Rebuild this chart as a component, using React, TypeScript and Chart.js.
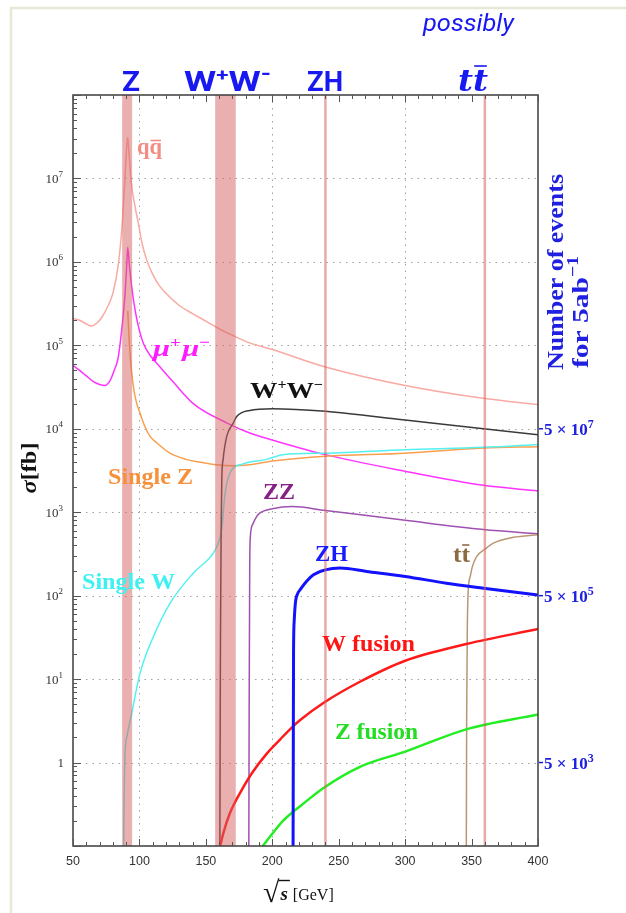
import { useEffect, useRef } from 'react';
import { Chart, registerables } from 'chart.js';
Chart.register(...registerables);

// ---- axes ----
const X_MIN = 50;
const X_MAX = 400;
const Y_MIN = 0.1;
const Y_MAX = 1e8;
const xTickLabels = [50, 100, 150, 200, 250, 300, 350, 400];
const xGridValues = [100, 200, 300];
const yDecadeExps = [0, 1, 2, 3, 4, 5, 6, 7];
const luminosityFb = 5000; // 5 ab^-1
const rightTickExps = [3, 5, 7];

// ---- marked energies (GeV) ----
const zBand = [87, 94.5];
const wwBand = [157, 172.5];
const zhEnergy = 240;
const ttEnergy = 360;

// ---- cross sections (fb) vs sqrt(s) (GeV) ----
const qqX = [50, 55, 60, 64, 68, 72, 76, 80, 84, 87, 89, 90.5, 91.2, 92, 93.7, 96.7, 99.2, 102, 105.5, 110, 115, 120, 130, 140, 150, 160, 170, 183, 200, 240, 300, 360, 400];
const qqY = [2.1e5, 2.0e5, 1.8e5, 1.7e5, 1.85e5, 2.2e5, 2.9e5, 4.2e5, 9e5, 2.8e6, 9.5e6, 2.5e7, 3.1e7, 2.2e7, 9.5e6, 4.6e6, 2.9e6, 1.66e6, 1.05e6, 7.1e5, 5.2e5, 4.2e5, 3.0e5, 2.4e5, 1.95e5, 1.58e5, 1.32e5, 1.07e5, 8.9e4, 5.5e4, 3.3e4, 2.3e4, 1.95e4];

const mmX = [50, 55, 60, 65, 70, 74, 78, 81, 84, 86.6, 89.1, 90.5, 91.2, 92.5, 94.2, 97, 100, 103, 108, 115.5, 125, 140.5, 166, 183, 191, 240, 300, 359, 400];
const mmY = [5.75e4, 5.0e4, 4.3e4, 3.7e4, 3.4e4, 3.3e4, 3.8e4, 5.0e4, 7.1e4, 1.5e5, 4.0e5, 9.5e5, 1.5e6, 8.9e5, 5.0e5, 2.5e5, 1.5e5, 1.05e5, 7.6e4, 5.5e4, 3.7e4, 2.0e4, 1.17e4, 8.9e3, 8.1e3, 4.9e3, 3.1e3, 2.1e3, 1.8e3];

const szX = [91.2, 92.5, 94, 96, 98, 100.4, 104, 108, 113, 123, 135, 145, 158, 170, 183, 200, 240, 300, 359, 400];
const szY = [2.6e5, 1.0e5, 5.0e4, 2.8e4, 2.0e4, 1.55e4, 1.07e4, 8.1e3, 6.8e3, 5.1e3, 4.3e3, 4.0e3, 3.7e3, 3.6e3, 3.7e3, 4.1e3, 4.7e3, 5.1e3, 5.9e3, 6.1e3];

const swX = [87.9, 88.3, 88.8, 89.3, 91, 94.2, 100.4, 110.4, 123, 140.5, 155.6, 159.4, 162, 164.4, 168.2, 178, 195.8, 208, 240, 300, 359, 400];
const swY = [0.02, 0.2, 0.8, 1.4, 2.2, 3.9, 11.7, 32, 81, 186, 324, 427, 630, 1.66e3, 2.95e3, 3.8e3, 4.3e3, 4.9e3, 5.1e3, 5.6e3, 6.0e3, 6.5e3];

const wwX = [160.5, 160.7, 161.0, 161.5, 162, 163, 165.7, 170.6, 173.2, 183, 200, 240, 300, 359, 400];
const wwY = [0.05, 1, 30, 600, 2.5e3, 4.3e3, 8.1e3, 1.17e4, 1.4e4, 1.66e4, 1.74e4, 1.62e4, 1.27e4, 1.0e4, 8.5e3];

const zzX = [182.3, 182.6, 183.0, 183.3, 185, 188.3, 190.7, 200, 215, 240, 300, 359, 400];
const zzY = [0.05, 5, 200, 450, 700, 890, 980, 1.1e3, 1.17e3, 1.05e3, 800, 620, 550];

const zhX = [215.6, 215.8, 216.0, 216.5, 217.5, 219, 221, 226, 231, 240, 251, 271, 300, 331, 359, 400];
const zhY = [0.05, 1, 20, 50, 85, 105, 118, 150, 178, 204, 214, 195, 170, 141, 123, 102];

const ttX = [346.0, 346.3, 346.8, 347.5, 349, 350.5, 353.9, 360, 366.4, 381.4, 400];
const ttY = [0.05, 3, 40, 117, 170, 220, 295, 360, 427, 500, 537];

const wfX = [160.1, 163, 168, 178, 185, 196, 206, 216, 221, 239, 266, 300, 346, 400];
const wfY = [0.09, 0.14, 0.245, 0.5, 0.76, 1.29, 1.9, 2.75, 3.24, 5.25, 9.3, 16.6, 26.3, 39.8];

const zfX = [192.8, 200, 208, 216, 221, 238, 266, 300, 346, 400];
const zfY = [0.1, 0.14, 0.2, 0.26, 0.3, 0.49, 0.89, 1.35, 2.5, 3.76];

const SERIF = '"Liberation Serif", "Times New Roman", serif';
const SANS = '"Liberation Sans", Arial, sans-serif';
const TITLE = 'Roboto, "Open Sans", sans-serif';
const BLUE = '#1818f0';

type Part = { text: string; font: string; dy?: number; bar?: number; gap?: number };

function drawRich(
  ctx: CanvasRenderingContext2D,
  parts: Part[],
  x: number,
  y: number,
  align: 'left' | 'center' | 'right',
  color: string,
  targetWidth?: number
) {
  ctx.save();
  ctx.fillStyle = color;
  ctx.strokeStyle = color;
  ctx.textAlign = 'left';
  ctx.textBaseline = 'alphabetic';
  const widths = parts.map((p) => {
    ctx.font = p.font;
    return ctx.measureText(p.text).width + (p.gap || 0);
  });
  const total = widths.reduce((a, b) => a + b, 0);
  const sx = targetWidth ? targetWidth / total : 1;
  const w = total * sx;
  const left = align === 'center' ? x - w / 2 : align === 'right' ? x - w : x;
  ctx.translate(left, y);
  ctx.scale(sx, 1);
  let cx = 0;
  parts.forEach((p, i) => {
    ctx.font = p.font;
    ctx.fillText(p.text, cx, p.dy || 0);
    if (p.bar !== undefined) {
      const tw = ctx.measureText(p.text).width;
      ctx.lineWidth = 1.6;
      ctx.beginPath();
      ctx.moveTo(cx + tw * 0.08, (p.dy || 0) - p.bar);
      ctx.lineTo(cx + tw * 0.92, (p.dy || 0) - p.bar);
      ctx.stroke();
    }
    cx += widths[i];
  });
  ctx.restore();
}

const overlay = {
  id: 'overlay',
  beforeDraw(chart: any) {
    const ctx: CanvasRenderingContext2D = chart.ctx;
    ctx.save();
    ctx.fillStyle = '#ffffff';
    ctx.fillRect(0, 0, chart.width, chart.height);
    ctx.strokeStyle = '#e8e8d6';
    ctx.lineWidth = 2.5;
    ctx.beginPath();
    ctx.moveTo(11, chart.height);
    ctx.lineTo(11, 8);
    ctx.lineTo(chart.width, 8);
    ctx.stroke();
    ctx.restore();
  },
  beforeDatasetsDraw(chart: any) {
    const ctx: CanvasRenderingContext2D = chart.ctx;
    const { left, right, top, bottom } = chart.chartArea;
    const xs = chart.scales.x;
    const ys = chart.scales.y;
    ctx.save();
    ctx.strokeStyle = '#a0a0a0';
    ctx.lineWidth = 1;
    ctx.setLineDash([1.5, 5]);
    yDecadeExps.forEach((e) => {
      const py = Math.round(ys.getPixelForValue(Math.pow(10, e))) + 0.5;
      ctx.beginPath();
      ctx.moveTo(left, py);
      ctx.lineTo(right, py);
      ctx.stroke();
    });
    xGridValues.forEach((v) => {
      const px = Math.round(xs.getPixelForValue(v)) + 0.5;
      ctx.beginPath();
      ctx.moveTo(px, top);
      ctx.lineTo(px, bottom);
      ctx.stroke();
    });
    ctx.restore();
  },
  afterDatasetsDraw(chart: any) {
    const ctx: CanvasRenderingContext2D = chart.ctx;
    const { left, right, top, bottom } = chart.chartArea;
    const xs = chart.scales.x;
    const ys = chart.scales.y;
    ctx.save();
    // bands
    ctx.fillStyle = 'rgba(214, 98, 98, 0.5)';
    [zBand, wwBand].forEach(([a, b]) => {
      const pa = xs.getPixelForValue(a);
      const pb = xs.getPixelForValue(b);
      ctx.fillRect(pa, top, pb - pa, bottom - top);
    });
    ctx.strokeStyle = 'rgba(214, 98, 98, 0.55)';
    ctx.lineWidth = 2.5;
    [zhEnergy, ttEnergy].forEach((v) => {
      const px = xs.getPixelForValue(v);
      ctx.beginPath();
      ctx.moveTo(px, top);
      ctx.lineTo(px, bottom);
      ctx.stroke();
    });
    // frame
    ctx.strokeStyle = '#3c3c3c';
    ctx.lineWidth = 1.5;
    ctx.strokeRect(left, top, right - left, bottom - top);
    // x ticks
    ctx.strokeStyle = '#555';
    ctx.lineWidth = 1;
    for (let v = X_MIN; v <= X_MAX; v += 10) {
      const px = Math.round(xs.getPixelForValue(v)) + 0.5;
      const len = v % 50 === 0 ? 7 : 4;
      ctx.beginPath();
      ctx.moveTo(px, bottom);
      ctx.lineTo(px, bottom - len);
      ctx.moveTo(px, top);
      ctx.lineTo(px, top + len);
      ctx.stroke();
    }
    // y ticks
    for (let e = -1; e <= 8; e++) {
      for (let m = 1; m <= 9; m++) {
        const v = m * Math.pow(10, e);
        if (v < Y_MIN || v > Y_MAX) continue;
        const py = Math.round(ys.getPixelForValue(v)) + 0.5;
        const len = m === 1 ? 8 : 4;
        ctx.beginPath();
        ctx.moveTo(left, py);
        ctx.lineTo(left + len, py);
        ctx.stroke();
      }
    }
    // x tick labels
    xTickLabels.forEach((v) => {
      drawRich(ctx, [{ text: String(v), font: `12.5px ${SANS}` }], xs.getPixelForValue(v), 865, 'center', '#333');
    });
    // y tick labels
    yDecadeExps.forEach((e) => {
      const py = ys.getPixelForValue(Math.pow(10, e));
      if (e === 0) {
        drawRich(ctx, [{ text: '1', font: `13px ${SERIF}` }], 64, py + 4.5, 'right', '#333');
      } else {
        drawRich(
          ctx,
          [
            { text: '10', font: `13px ${SERIF}` },
            { text: String(e), font: `9px ${SERIF}`, dy: -6 },
          ],
          63,
          py + 4.5,
          'right',
          '#333'
        );
      }
    });
    // right axis: number of events (5 x 10^n events)
    rightTickExps.forEach((n) => {
      const py = ys.getPixelForValue((5 * Math.pow(10, n)) / luminosityFb);
      ctx.strokeStyle = BLUE;
      ctx.lineWidth = 1.5;
      ctx.beginPath();
      ctx.moveTo(right + 1, py);
      ctx.lineTo(right + 5, py);
      ctx.stroke();
      drawRich(
        ctx,
        [
          { text: '5 × 10', font: `bold 17px ${SERIF}` },
          { text: String(n), font: `bold 12px ${SERIF}`, dy: -7 },
        ],
        544,
        py + 6,
        'left',
        '#2020e0'
      );
    });
    // axis titles
    ctx.save();
    ctx.translate(36, 468);
    ctx.rotate(-Math.PI / 2);
    drawRich(
      ctx,
      [
        { text: 'σ', font: `bold italic 22px ${SERIF}` },
        { text: '[fb]', font: `bold 22px ${SERIF}` },
      ],
      0,
      0,
      'center',
      '#111',
      51
    );
    ctx.restore();

    ctx.save();
    ctx.translate(563, 370);
    ctx.rotate(-Math.PI / 2);
    drawRich(ctx, [{ text: 'Number of events', font: `bold 24px ${SERIF}` }], 0, 0, 'left', '#2020e0', 196);
    ctx.restore();
    ctx.save();
    ctx.translate(588, 368);
    ctx.rotate(-Math.PI / 2);
    drawRich(
      ctx,
      [
        { text: 'for 5ab', font: `bold 24px ${SERIF}` },
        { text: '−1', font: `bold 16px ${SERIF}`, dy: -10 },
      ],
      0,
      0,
      'left',
      '#2020e0',
      112
    );
    ctx.restore();

    // sqrt(s) [GeV]
    ctx.save();
    ctx.fillStyle = '#111';
    ctx.strokeStyle = '#111';
    ctx.textBaseline = 'alphabetic';
    ctx.textAlign = 'left';
    ctx.font = `30px ${SERIF}`;
    const rw = ctx.measureText('√').width;
    const x0 = 263;
    ctx.fillText('√', x0, 902);
    ctx.font = `bold italic 19px ${SERIF}`;
    const sw = ctx.measureText('s').width;
    ctx.fillText('s', x0 + rw + 1, 900);
    ctx.lineWidth = 1.4;
    ctx.beginPath();
    ctx.moveTo(x0 + rw - 1, 880.5);
    ctx.lineTo(x0 + rw + sw + 3, 880.5);
    ctx.stroke();
    ctx.font = `16px ${SERIF}`;
    ctx.fillText('[GeV]', x0 + rw + sw + 6, 900);
    ctx.restore();

    // top process titles
    drawRich(ctx, [{ text: 'Z', font: `bold 28px ${TITLE}` }], 131, 91, 'center', BLUE, 18);
    drawRich(
      ctx,
      [
        { text: 'W', font: `bold 28px ${TITLE}` },
        { text: '+', font: `bold 17px ${TITLE}`, dy: -10 },
        { text: 'W', font: `bold 28px ${TITLE}` },
        { text: '-', font: `bold 20px ${TITLE}`, dy: -11 },
      ],
      227.5,
      91,
      'center',
      BLUE,
      87
    );
    drawRich(ctx, [{ text: 'ZH', font: `bold 28px ${TITLE}` }], 325, 91, 'center', BLUE, 36);
    drawRich(
      ctx,
      [
        { text: 't', font: `bold italic 30px "DejaVu Serif", serif` },
        { text: 't', font: `bold italic 30px "DejaVu Serif", serif`, bar: 25 },
      ],
      473,
      91,
      'center',
      BLUE,
      30
    );
    drawRich(ctx, [{ text: 'possibly', font: `italic 24px ${TITLE}` }], 468.5, 31, 'center', BLUE, 91);

    // curve labels
    const B = `bold 24px ${SERIF}`;
    drawRich(ctx, [{ text: 'q', font: B }, { text: 'q', font: B, bar: 13 }], 149.5, 153.5, 'center', '#f28c84', 25);
    drawRich(
      ctx,
      [
        { text: 'μ', font: `bold italic 24px ${SERIF}` },
        { text: '+', font: `bold 15px ${SERIF}`, dy: -9, gap: 1 },
        { text: 'μ', font: `bold italic 24px ${SERIF}` },
        { text: '−', font: `bold 15px ${SERIF}`, dy: -9 },
      ],
      181.5,
      356,
      'center',
      '#ff1aff',
      57
    );
    drawRich(
      ctx,
      [
        { text: 'W', font: B },
        { text: '+', font: `bold 14px ${SERIF}`, dy: -9 },
        { text: 'W', font: B },
        { text: '−', font: `bold 14px ${SERIF}`, dy: -9 },
      ],
      286.5,
      398,
      'center',
      '#111',
      73
    );
    drawRich(ctx, [{ text: 'Single Z', font: B }], 150.5, 484, 'center', '#f5913a', 85);
    drawRich(ctx, [{ text: 'Single W', font: B }], 128.5, 589, 'center', '#3ff0f0', 93);
    drawRich(ctx, [{ text: 'ZZ', font: B }], 279, 499, 'center', '#852285', 32);
    drawRich(ctx, [{ text: 'ZH', font: B }], 331.5, 561, 'center', '#1a1aff', 33);
    drawRich(ctx, [{ text: 't', font: B }, { text: 't', font: B, bar: 17 }], 461.5, 562, 'center', '#8b6b42', 17);
    drawRich(ctx, [{ text: 'W fusion', font: B }], 368.5, 651, 'center', '#ff1414', 93);
    drawRich(ctx, [{ text: 'Z fusion', font: B }], 376.5, 739, 'center', '#22dd22', 83);

    ctx.restore();
  },
};

type Series = { label: string; x: number[]; y: number[]; color: string; width: number };

const series: Series[] = [
  { label: 'ZH', x: zhX, y: zhY, color: '#1212ff', width: 3 },
  { label: 'W fusion', x: wfX, y: wfY, color: '#ff1a1a', width: 2.5 },
  { label: 'Z fusion', x: zfX, y: zfY, color: '#22ee22', width: 2.5 },
  { label: 'tt', x: ttX, y: ttY, color: '#b89672', width: 1.5 },
  { label: 'ZZ', x: zzX, y: zzY, color: '#a050b0', width: 1.5 },
  { label: 'WW', x: wwX, y: wwY, color: '#3a3a3a', width: 1.5 },
  { label: 'Single W', x: swX, y: swY, color: '#55f0f0', width: 1.5 },
  { label: 'Single Z', x: szX, y: szY, color: '#f7a050', width: 1.5 },
  { label: 'mumu', x: mmX, y: mmY, color: '#ff33ff', width: 1.5 },
  { label: 'qq', x: qqX, y: qqY, color: '#f9aaa2', width: 1.5 },
];

export default function App() {
  const ref = useRef<HTMLCanvasElement | null>(null);
  useEffect(() => {
    document.body.style.margin = '0';
    const canvas = ref.current;
    if (!canvas) return;
    const chart = new Chart(canvas, {
      type: 'scatter',
      data: {
        datasets: series.map((s) => ({
          label: s.label,
          data: s.x.map((x, i) => ({ x, y: s.y[i] })),
          showLine: true,
          borderColor: s.color,
          backgroundColor: s.color,
          borderWidth: s.width,
          pointRadius: 0,
          fill: false,
          cubicInterpolationMode: 'monotone' as const,
        })),
      },
      options: {
        animation: false,
        responsive: false,
        devicePixelRatio: 1,
        events: [],
        layout: { padding: { left: 73, right: 88, top: 95, bottom: 67 } },
        scales: {
          x: { type: 'linear', min: X_MIN, max: X_MAX, display: false },
          y: { type: 'logarithmic', min: Y_MIN, max: Y_MAX, display: false },
        },
        plugins: { legend: { display: false }, tooltip: { enabled: false } },
      },
      plugins: [overlay],
    });
    return () => chart.destroy();
  }, []);
  return <canvas ref={ref} width={626} height={913} style={{ display: 'block' }} />;
}
